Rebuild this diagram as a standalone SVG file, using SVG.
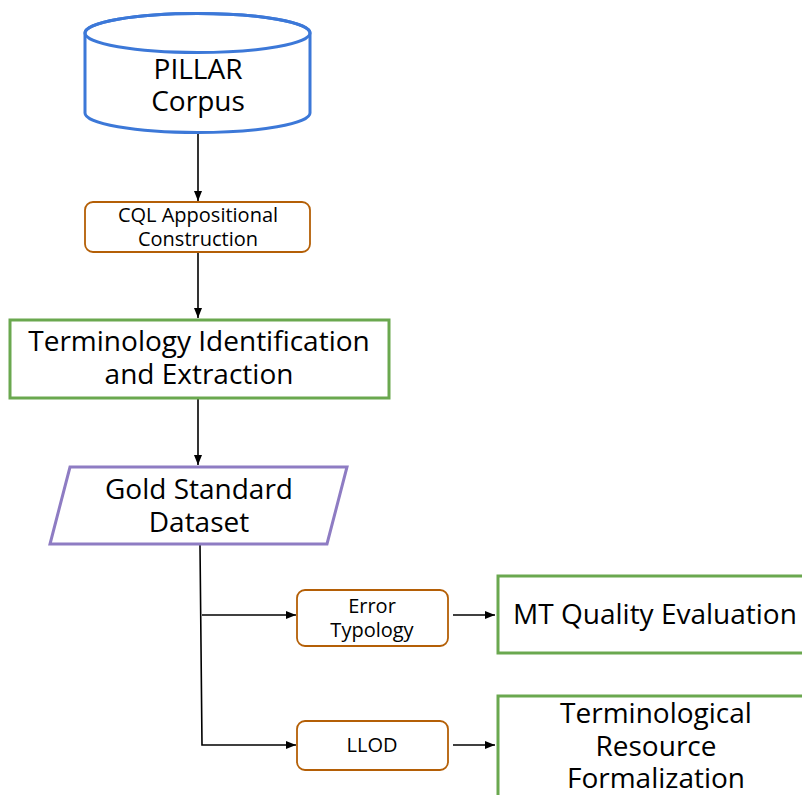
<svg xmlns="http://www.w3.org/2000/svg" width="802" height="795" viewBox="0 0 802 795">
  <defs>
    <marker id="arrow" viewBox="0 0 10 10" refX="10" refY="5" markerWidth="10" markerHeight="10" markerUnits="userSpaceOnUse" orient="auto">
      <path d="M0,1 L10,5 L0,9 Z" fill="#000"/>
    </marker>
  </defs>
  <style>
    text { font-family: "Open Sans", "Noto Sans", "DejaVu Sans", sans-serif; fill: #000; text-anchor: middle; }
    .big { font-size: 28px; }
    .small { font-size: 20px; }
    .blue { fill: #fff; stroke: #3c78d8; stroke-width: 3; }
    .orange { fill: #fff; stroke: #b45f06; stroke-width: 1.8; }
    .green { fill: #fff; stroke: #6aa84f; stroke-width: 3; }
    .purple { fill: #fff; stroke: #8e7cc3; stroke-width: 3; }
    .conn { fill: none; stroke: #000; stroke-width: 1.6; }
  </style>
  <rect width="802" height="795" fill="#fff"/>

  <g id="connectors">
    <line class="conn" x1="198" y1="134" x2="198" y2="201" marker-end="url(#arrow)"/>
    <line class="conn" x1="198" y1="253" x2="198" y2="318" marker-end="url(#arrow)"/>
    <line class="conn" x1="198" y1="399" x2="198" y2="465" marker-end="url(#arrow)"/>
    <polyline class="conn" points="200,545 202,745 296,745" marker-end="url(#arrow)"/>
    <line class="conn" x1="202" y1="615" x2="296" y2="615" marker-end="url(#arrow)"/>
    <line class="conn" x1="453" y1="615" x2="495" y2="615" marker-end="url(#arrow)"/>
    <line class="conn" x1="453" y1="745" x2="495" y2="745" marker-end="url(#arrow)"/>
  </g>

  <g id="pillar-corpus">
    <path class="blue" d="M85,33 L85,113 A112.5,19.5 0 0 0 310,113 L310,33 A112.5,19.5 0 0 0 85,33 Z"/>
    <ellipse cx="197.5" cy="33" rx="112.5" ry="19.5" fill="none" stroke="#3c78d8" stroke-width="3"/>
    <text class="big" x="198" y="79">PILLAR</text>
    <text class="big" x="198" y="111">Corpus</text>
  </g>

  <g id="cql">
    <rect class="orange" x="85" y="202" width="225" height="50" rx="8"/>
    <text class="small" x="198" y="222">CQL Appositional</text>
    <text class="small" x="198" y="246">Construction</text>
  </g>

  <g id="terminology-extraction">
    <rect class="green" x="10" y="320" width="379" height="78"/>
    <text class="big" x="199" y="351">Terminology Identification</text>
    <text class="big" x="199" y="384">and Extraction</text>
  </g>

  <g id="gold-standard">
    <polygon class="purple" points="70,467 347,467 327,544 50,544"/>
    <text class="big" x="199" y="499">Gold Standard</text>
    <text class="big" x="199" y="532">Dataset</text>
  </g>

  <g id="error-typology">
    <rect class="orange" x="297" y="590" width="151" height="56" rx="8"/>
    <text class="small" x="372" y="613">Error</text>
    <text class="small" x="372" y="637">Typology</text>
  </g>

  <g id="llod">
    <rect class="orange" x="297" y="721" width="151" height="49" rx="8"/>
    <text class="small" x="372" y="752">LLOD</text>
  </g>

  <g id="mt-quality">
    <rect class="green" x="498" y="576" width="316" height="77"/>
    <text class="big" x="655" y="624">MT Quality Evaluation</text>
  </g>

  <g id="terminological-resource">
    <rect class="green" x="498" y="696" width="316" height="110"/>
    <text class="big" x="656" y="723">Terminological</text>
    <text class="big" x="656" y="756">Resource</text>
    <text class="big" x="656" y="788">Formalization</text>
  </g>
</svg>
